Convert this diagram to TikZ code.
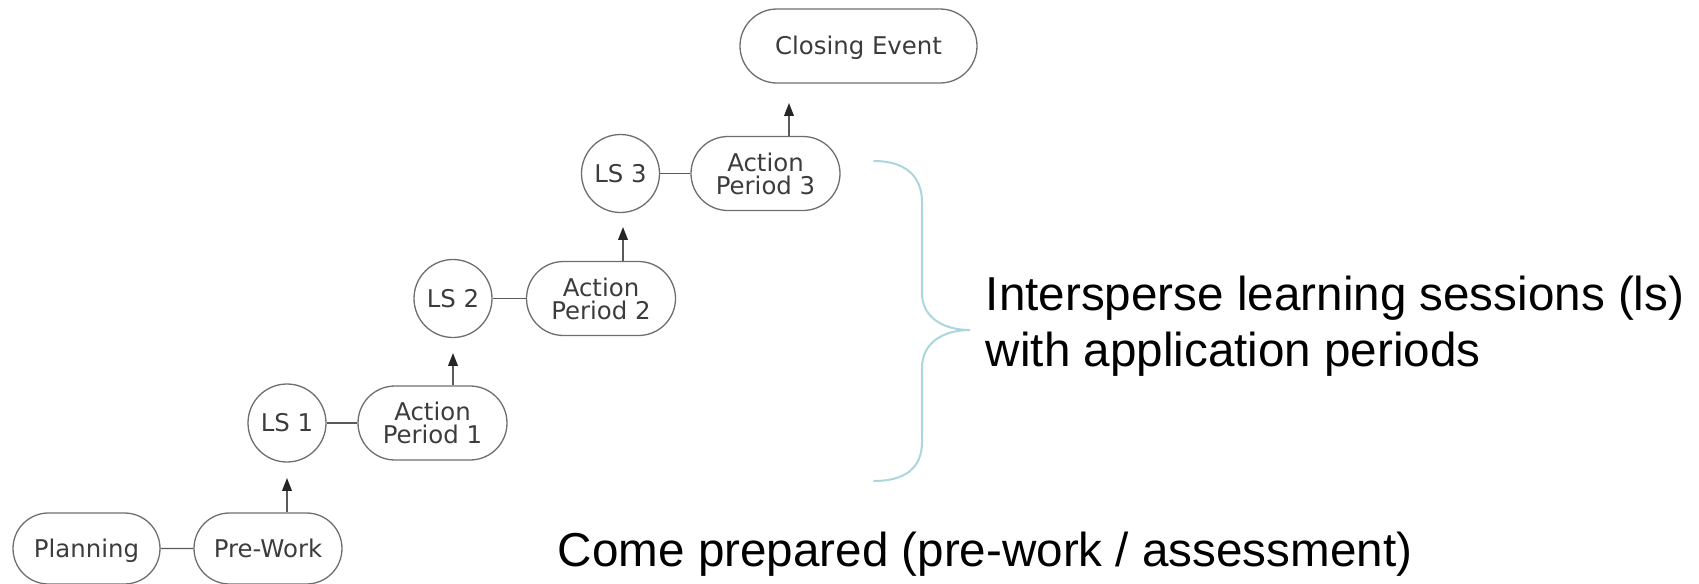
\documentclass[tikz,border=0pt]{standalone}
\usepackage{fontspec}
\setmainfont{Liberation Sans}
\newfontfamily\boxfont{DejaVu Sans}
\usetikzlibrary{arrows.meta,calc,shapes.misc}

\definecolor{edgegray}{HTML}{6E6E6E}
\definecolor{labelgray}{HTML}{3C3C3C}
\definecolor{linkgray}{HTML}{5A5A5A}
\definecolor{bracecol}{RGB}{170,215,220}

\tikzset{
  boxtext/.style={font=\boxfont\fontsize{12.2pt}{11.6pt}\selectfont, text=labelgray, align=center},
  oneline/.style={text height=8.9pt, text depth=0pt},
  pill/.style={rounded rectangle, draw=edgegray, line width=0.65pt, inner sep=0pt,
               minimum height=37pt, minimum width=74.5pt, boxtext},
  session/.style={circle, draw=edgegray, line width=0.65pt, inner sep=0pt,
                  minimum size=39pt, boxtext, oneline},
  link/.style={draw=linkgray, line width=0.65pt},
  uparrow/.style={draw=linkgray, line width=0.75pt,
                  -{Triangle[length=6.4pt,width=4.8pt,color=black!85]}},
  bigtext/.style={font=\fontsize{23.8pt}{28pt}\selectfont, text=black, inner sep=0pt, anchor=base west}
}

\begin{document}
\begin{tikzpicture}[x=0.5pt,y=-0.5pt]
  \useasboundingbox (0,0) rectangle (1699,584);

  % stages
  \node[pill, oneline, minimum width=73.5pt, minimum height=35.5pt] (plan) at (86.5,548.5) {Planning};
  \node[pill, oneline, minimum width=74pt, minimum height=35.5pt] (pre) at (268,548.5) {Pre-Work};

  \node[session] (ls1) at (287,423) {LS 1};
  \node[pill] (ap1) at (432.5,423) {Action\\Period 1};

  \node[session] (ls2) at (453,298.5) {LS 2};
  \node[pill] (ap2) at (601,298.5) {Action\\Period 2};

  \node[session] (ls3) at (620.5,173.5) {LS 3};
  \node[pill] (ap3) at (765.5,173.5) {Action\\Period 3};

  \node[pill, oneline, minimum width=118.5pt] (close) at (858.5,46) {Closing Event};

  % horizontal links
  \draw[link] (plan) -- (pre);
  \draw[link] (ls1) -- (ap1);
  \draw[link] (ls2) -- (ap2);
  \draw[link] (ls3) -- (ap3);

  % upward steps
  \coordinate (tip0) at (287,478);
  \coordinate (tip1) at (453,353);
  \coordinate (tip2) at (623,227);
  \coordinate (tip3) at (789,103);
  \draw[uparrow] (pre.north -| tip0) -- (tip0);
  \draw[uparrow] (ap1.north -| tip1) -- (tip1);
  \draw[uparrow] (ap2.north -| tip2) -- (tip2);
  \draw[uparrow] (ap3.north -| tip3) -- (tip3);

  % brace
  \draw[bracecol, line width=1pt, line cap=round]
    (874,161) .. controls (905,161) and (922,176) .. (922,202)
    -- (922,293) .. controls (922,318) and (944,330) .. (970,330)
    .. controls (944,330) and (922,342) .. (922,368)
    -- (922,442) .. controls (922,468) and (905,481) .. (874,481);

  % captions
  \node[bigtext] (cap1) at (985.5,310) {Intersperse learning sessions (ls)};
  \node[bigtext] (cap2) at (985.5,366) {with application periods};
  \node[bigtext] (cap3) at (557.5,566) {Come prepared (pre-work / assessment)};
\end{tikzpicture}
\end{document}
